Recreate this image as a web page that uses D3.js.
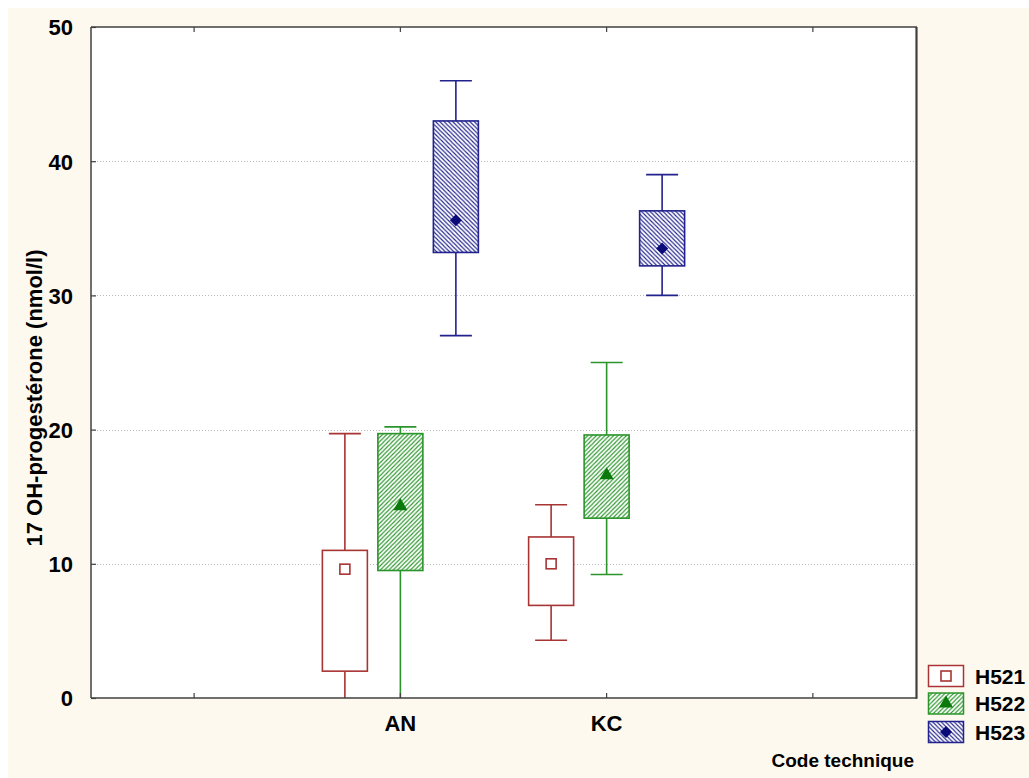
<!DOCTYPE html>
<html>
<head>
<meta charset="utf-8">
<script src="https://cdn.jsdelivr.net/npm/d3@7"></script>
<style>
  html, body { margin: 0; padding: 0; background: #ffffff; }
  svg { display: block; }
  text { font-family: "Liberation Sans", Arial, sans-serif; fill: #000; }
</style>
</head>
<body>
<svg id="chart" width="1029" height="778"></svg>
<script>
// ---- data ----
const categories = ["AN", "KC"];
const seriesNames = ["H521", "H522", "H523"];
// per series, per category (AN, KC)
const whiskerLow  = [[0.0, 4.3],  [0.0, 9.2],  [27.0, 30.0]];
const boxLow      = [[2.0, 6.9],  [9.5, 13.4], [33.2, 32.2]];
const meanValues  = [[9.6, 10.0], [14.3, 16.6],[35.6, 33.5]];
const boxHigh     = [[11.0, 12.0],[19.7, 19.6],[43.0, 36.3]];
const whiskerHigh = [[19.7, 14.4],[20.2, 25.0],[46.0, 39.0]];
const yTicks = [0, 10, 20, 30, 40, 50];
const yTitle = "17 OH-progestérone (nmol/l)";
const xTitle = "Code technique";

// ---- layout ----
const W = 1029, H = 778;
const plot = { left: 91, right: 916, top: 27, bottom: 698 };
const colors = ["#a83434", "#2a952a", "#22228e"];
const markColors = ["#a83434", "#0a7a0a", "#0a0a78"];

const svg = d3.select("#chart");

// cream background
svg.append("rect").attr("x", 8).attr("y", 8).attr("width", W - 8).attr("height", H - 8)
  .attr("fill", "#fef9ee");

// patterns
const defs = svg.append("defs");
function hatch(id, color, dir) {
  const p = defs.append("pattern").attr("id", id)
    .attr("patternUnits", "userSpaceOnUse").attr("width", 4.3).attr("height", 4.3);
  p.append("rect").attr("width", 4.3).attr("height", 4.3).attr("fill", "#ffffff");
  const d = dir === "/"
    ? "M0,4.3 L4.3,0 M-1,1 L1,-1 M3.3,5.3 L5.3,3.3"
    : "M0,0 L4.3,4.3 M-1,3.3 L1,5.3 M3.3,-1 L5.3,1";
  p.append("path").attr("d", d).attr("stroke", color).attr("stroke-width", 1.1);
}
hatch("hatchGreen", colors[1], "/");
hatch("hatchBlue", colors[2], "\\");
const fills = ["#ffffff", "url(#hatchGreen)", "url(#hatchBlue)"];

defs.append("clipPath").attr("id", "plotClip").append("rect")
  .attr("x", plot.left).attr("y", plot.top)
  .attr("width", plot.right - plot.left).attr("height", plot.bottom - plot.top);

// plot area
svg.append("rect").attr("x", plot.left).attr("y", plot.top)
  .attr("width", plot.right - plot.left).attr("height", plot.bottom - plot.top)
  .attr("fill", "#ffffff");

// scales
const y = d3.scaleLinear().domain([0, 50]).range([plot.bottom, plot.top]);
const xDomain = ["_pre"].concat(categories).concat(["_post"]);
const x = d3.scaleBand().domain(xDomain).range([plot.left, plot.right]).padding(0);
const sub = d3.scalePoint().domain(seriesNames).range([-55.5, 55.5]);
const boxW = 45, capW = 32;
const cx = c => x(c) + x.bandwidth() / 2;

// gridlines
svg.append("g").selectAll("line").data(yTicks.filter(t => t > 0 && t < 50)).join("line")
  .attr("x1", plot.left).attr("x2", plot.right)
  .attr("y1", d => Math.round(y(d)) + 0.5).attr("y2", d => Math.round(y(d)) + 0.5)
  .attr("stroke", "#b8b8b8").attr("stroke-width", 1).attr("stroke-dasharray", "1,2");

// boxes
const g = svg.append("g").attr("clip-path", "url(#plotClip)");
seriesNames.forEach((s, si) => {
  categories.forEach((c, ci) => {
    const xc = cx(c) + sub(s);
    const col = colors[si];
    const sg = g.append("g");
    // whiskers
    sg.append("line").attr("x1", xc).attr("x2", xc)
      .attr("y1", y(whiskerHigh[si][ci])).attr("y2", y(boxHigh[si][ci]))
      .attr("stroke", col).attr("stroke-width", 1.6);
    sg.append("line").attr("x1", xc).attr("x2", xc)
      .attr("y1", y(boxLow[si][ci])).attr("y2", y(whiskerLow[si][ci]))
      .attr("stroke", col).attr("stroke-width", 1.6);
    // caps
    sg.append("line").attr("x1", xc - capW / 2).attr("x2", xc + capW / 2)
      .attr("y1", y(whiskerHigh[si][ci])).attr("y2", y(whiskerHigh[si][ci]))
      .attr("stroke", col).attr("stroke-width", 1.6);
    if (whiskerLow[si][ci] > y.domain()[0]) {
      sg.append("line").attr("x1", xc - capW / 2).attr("x2", xc + capW / 2)
        .attr("y1", y(whiskerLow[si][ci])).attr("y2", y(whiskerLow[si][ci]))
        .attr("stroke", col).attr("stroke-width", 1.6);
    }
    // box
    sg.append("rect").attr("x", xc - boxW / 2).attr("width", boxW)
      .attr("y", y(boxHigh[si][ci])).attr("height", y(boxLow[si][ci]) - y(boxHigh[si][ci]))
      .attr("fill", fills[si]).attr("stroke", col).attr("stroke-width", 1.6);
    // mean marker
    const my = y(meanValues[si][ci]);
    drawMarker(sg, si, xc, my);
  });
});

function drawMarker(parent, si, mx, my) {
  if (si === 0) {
    parent.append("rect").attr("x", mx - 5).attr("y", my - 5).attr("width", 10).attr("height", 10)
      .attr("fill", "#ffffff").attr("stroke", markColors[0]).attr("stroke-width", 1.6);
  } else if (si === 1) {
    parent.append("path").attr("d", d3.symbol(d3.symbolTriangle, 85)())
      .attr("transform", `translate(${mx},${my})`).attr("fill", markColors[1]);
  } else {
    parent.append("path").attr("d", `M0,-6 L6,0 L0,6 L-6,0 Z`)
      .attr("transform", `translate(${mx},${my})`).attr("fill", markColors[2]);
  }
}

// frame
const frame = svg.append("g").attr("fill", "none").attr("stroke", "#404040");
frame.append("line").attr("x1", plot.left).attr("x2", plot.right + 1)
  .attr("y1", plot.top).attr("y2", plot.top).attr("stroke-width", 1.5);
frame.append("line").attr("x1", plot.left).attr("x2", plot.right + 1)
  .attr("y1", plot.bottom).attr("y2", plot.bottom).attr("stroke-width", 1.5);
frame.append("line").attr("x1", plot.left).attr("x2", plot.left)
  .attr("y1", plot.top).attr("y2", plot.bottom).attr("stroke-width", 1.5);
frame.append("line").attr("x1", plot.right + 0.5).attr("x2", plot.right + 0.5)
  .attr("y1", plot.top).attr("y2", plot.bottom + 0.75).attr("stroke-width", 2.2);

// y axis ticks (inside) and labels
const yAxis = d3.axisLeft(y).tickValues(yTicks).tickSize(-5).tickPadding(18);
const yg = svg.append("g").attr("transform", `translate(${plot.left},0)`).call(yAxis);
yg.select(".domain").remove();
yg.selectAll(".tick line").attr("stroke", "#404040").attr("stroke-width", 1.2);
yg.selectAll(".tick text").attr("font-size", 22).attr("font-weight", "bold")
  .attr("font-family", "Liberation Sans, Arial, sans-serif").attr("fill", "#000")
  .attr("dy", "0.36em");

// x axis ticks (inside, bottom & top) and labels
const xAxis = d3.axisBottom(x).tickSize(-5).tickPadding(17)
  .tickFormat(d => categories.includes(d) ? d : "");
const xg = svg.append("g").attr("transform", `translate(0,${plot.bottom})`).call(xAxis);
xg.select(".domain").remove();
xg.selectAll(".tick line").attr("stroke", "#404040").attr("stroke-width", 1.2);
xg.selectAll(".tick text").attr("font-size", 22).attr("font-weight", "bold")
  .attr("font-family", "Liberation Sans, Arial, sans-serif").attr("fill", "#000")
  .attr("dy", "0.71em");
const xTop = d3.axisTop(x).tickSize(-5).tickFormat("");
const xtg = svg.append("g").attr("transform", `translate(0,${plot.top})`).call(xTop);
xtg.select(".domain").remove();
xtg.selectAll(".tick line").attr("stroke", "#404040").attr("stroke-width", 1.2);

// titles
svg.append("text").attr("transform", `translate(42,398) rotate(-90)`)
  .attr("text-anchor", "middle").attr("font-size", 22).attr("font-weight", "bold")
  .text(yTitle);
svg.append("text").attr("x", 914).attr("y", 767).attr("text-anchor", "end")
  .attr("font-size", 19).attr("font-weight", "bold").text(xTitle);

// legend
const legY = [676, 703.5, 732];
const lg = svg.append("g");
seriesNames.forEach((s, si) => {
  const cy = legY[si];
  lg.append("rect").attr("x", 928.5).attr("y", cy - 10.5).attr("width", 35).attr("height", 21)
    .attr("fill", fills[si]).attr("stroke", colors[si]).attr("stroke-width", 1.5);
  drawMarker(lg, si, 946, cy);
  lg.append("text").attr("x", 975).attr("y", cy + 7.5).attr("font-size", 21)
    .attr("font-weight", "bold").text(s);
});
</script>
</body>
</html>
